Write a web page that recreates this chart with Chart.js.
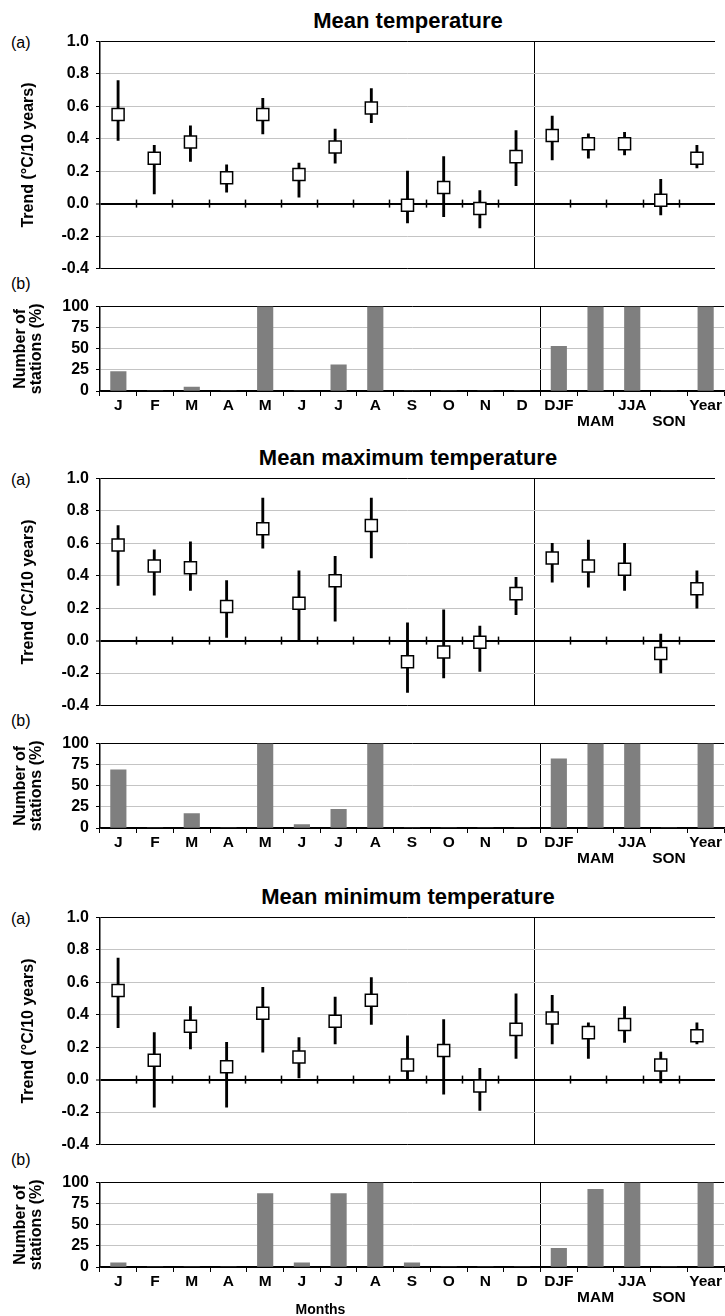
<!DOCTYPE html>
<html lang="en">
  <head>
    <meta charset="UTF-8" />
    <title>Temperature trends</title>
    <script src="https://cdn.jsdelivr.net/npm/chart.js"></script>
    <style>
      body { margin: 0; background: #fff; font-family: "Liberation Sans", Arial, sans-serif; }
      #wrap { position: relative; width: 725px; height: 1316px; overflow: hidden; }
      #wrap canvas { position: absolute; left: 0; }
      .txt { position: absolute; color: #000; white-space: nowrap; }
      .title { left: 96px; width: 624px; text-align: center; font-weight: bold; font-size: 22px; line-height: 24px; }
      .tag { left: 11px; font-size: 16px; line-height: 20px; }
      .months { left: 100px; width: 441px; text-align: center; font-weight: bold; font-size: 14px; line-height: 16px; }
    </style>
  </head>
  <body>
    <div id="wrap"></div>

    <script>
      // categories: 12 months + seasons + year
      const categories = ["J", "F", "M", "A", "M", "J", "J", "A", "S", "O", "N", "D", "DJF", "MAM", "JJA", "SON", "Year"];
      // staggered labels like the original (MAM / SON on second row)
      const xTickLabels = ["J", "F", "M", "A", "M", "J", "J", "A", "S", "O", "N", "D", "DJF", ["", "MAM"], "JJA", ["", "SON"], "Year"];

      // Mean temperature (trend, lower / upper bound, % stations significant)
      const meanT = [0.55, 0.28, 0.38, 0.16, 0.55, 0.18, 0.35, 0.59, -0.01, 0.10, -0.03, 0.29, 0.42, 0.37, 0.37, 0.02, 0.28];
      const meanTLow = [0.39, 0.06, 0.26, 0.07, 0.43, 0.04, 0.25, 0.50, -0.12, -0.08, -0.15, 0.11, 0.27, 0.28, 0.30, -0.07, 0.22];
      const meanTHigh = [0.76, 0.36, 0.48, 0.24, 0.65, 0.25, 0.46, 0.71, 0.20, 0.29, 0.08, 0.45, 0.54, 0.43, 0.44, 0.15, 0.36];
      const meanTStations = [23, 0, 4.5, 0, 100, 0, 31, 100, 0, 0, 0, 0, 53, 100, 100, 0, 100];

      // Mean maximum temperature
      const maxT = [0.59, 0.46, 0.45, 0.21, 0.69, 0.23, 0.37, 0.71, -0.13, -0.07, -0.01, 0.29, 0.51, 0.46, 0.44, -0.08, 0.32];
      const maxTLow = [0.34, 0.28, 0.31, 0.02, 0.57, 0.0, 0.12, 0.51, -0.32, -0.23, -0.19, 0.16, 0.36, 0.33, 0.31, -0.20, 0.20];
      const maxTHigh = [0.71, 0.56, 0.61, 0.37, 0.88, 0.43, 0.52, 0.88, 0.11, 0.19, 0.09, 0.39, 0.60, 0.62, 0.60, 0.04, 0.43];
      const maxTStations = [69, 0, 17, 0, 100, 4, 22, 100, 0, 0, 0, 0, 82, 100, 100, 0, 100];

      // Mean minimum temperature
      const minT = [0.55, 0.12, 0.33, 0.08, 0.41, 0.14, 0.36, 0.49, 0.09, 0.18, -0.04, 0.31, 0.38, 0.29, 0.34, 0.09, 0.27];
      const minTLow = [0.32, -0.17, 0.19, -0.17, 0.17, 0.01, 0.22, 0.34, 0.0, -0.09, -0.19, 0.13, 0.22, 0.13, 0.23, -0.02, 0.22];
      const minTHigh = [0.75, 0.29, 0.45, 0.23, 0.57, 0.26, 0.51, 0.63, 0.27, 0.37, 0.07, 0.53, 0.52, 0.35, 0.45, 0.17, 0.35];
      const minTStations = [5, 0, 0, 0, 87, 5, 87, 100, 5, 0, 0, 0, 22, 92, 100, 0, 100];

      const panels = [
        { title: "Mean temperature", top: 39, trend: meanT, low: meanTLow, high: meanTHigh, stations: meanTStations },
        { title: "Mean maximum temperature", top: 476, trend: maxT, low: maxTLow, high: maxTHigh, stations: maxTStations },
        { title: "Mean minimum temperature", top: 915, trend: minT, low: minTLow, high: minTHigh, stations: minTStations },
      ];

      Chart.defaults.font.family = "'Liberation Sans', Arial, sans-serif";
      Chart.defaults.color = "#000";

      const wrap = document.getElementById("wrap");
      const PLOT_A = 232; // height of trend plot
      const PLOT_B = 87; // height of station plot
      const PAD = 14;
      const GRID = "#c4c4c4";
      const yTickFont = { size: 16, weight: "bold" };

      function addCanvas(top, height) {
        const c = document.createElement("canvas");
        c.width = 725;
        c.height = height;
        c.style.top = top + "px";
        wrap.appendChild(c);
        return c;
      }

      function addText(text, cls, top) {
        const d = document.createElement("div");
        d.className = "txt " + cls;
        d.style.top = top + "px";
        d.textContent = text;
        wrap.appendChild(d);
      }

      // small ticks crossing the zero line, at category boundaries
      const zeroTicks = {
        id: "zeroTicks",
        afterDatasetsDraw(chart) {
          const { ctx, scales: { x, y } } = chart;
          const y0 = y.getPixelForValue(0);
          ctx.save();
          ctx.strokeStyle = "#000";
          ctx.lineWidth = 1.5;
          for (let i = 1; i < categories.length; i++) {
            if (i === 12) continue;
            const px = Math.round(x.getPixelForValue(i - 0.5)) + 0.5;
            ctx.beginPath();
            ctx.moveTo(px, y0 - 4);
            ctx.lineTo(px, y0 + 4);
            ctx.stroke();
          }
          ctx.restore();
        },
      };

      const divider = (c) => (c.index === 12 ? "#000" : "rgba(0,0,0,0)");
      const isZero = (v) => Math.abs(v) < 1e-9;

      panels.forEach((p) => {
        const T = p.top;
        addText(p.title, "title", T - 18 - 12);
        addText("(a)", "tag", T + 4 - 10);
        addText("(b)", "tag", T + 245 - 10);

        // (a) trend with confidence interval
        new Chart(addCanvas(T - PAD, PLOT_A + 2 * PAD), {
          type: "bar",
          data: {
            labels: categories,
            datasets: [
              {
                type: "bar",
                data: p.low.map((l, i) => [l, p.high[i]]),
                backgroundColor: "#000",
                barThickness: 2.2,
                order: 1,
              },
              {
                type: "line",
                data: p.trend,
                showLine: false,
                pointStyle: "rect",
                pointRadius: 8.5,
                pointBackgroundColor: "#fff",
                pointBorderColor: "#000",
                pointBorderWidth: 1.5,
                order: 0,
              },
            ],
          },
          options: {
            responsive: false,
            animation: false,
            layout: { padding: { top: PAD, bottom: PAD, right: 1, left: 0 } },
            plugins: { legend: { display: false }, tooltip: { enabled: false } },
            scales: {
              x: {
                offset: true,
                grid: { offset: true, color: divider, drawTicks: false },
                border: { display: false },
                ticks: { display: false },
                afterFit: (s) => { s.height = 0; },
              },
              y: {
                min: -0.4,
                max: 1.0,
                ticks: { stepSize: 0.2, autoSkip: false, font: yTickFont, padding: 7, callback: (v) => (isZero(v) ? "0.0" : v.toFixed(1)) },
                grid: {
                  color: (c) => {
                    const v = c.tick.value;
                    return isZero(v) || v <= -0.399 || v >= 0.999 ? "#000" : GRID;
                  },
                  lineWidth: (c) => (isZero(c.tick.value) ? 2 : 1),
                  tickColor: "#000",
                  tickWidth: 1,
                  tickLength: 4,
                },
                border: { color: "#000", width: 1.5 },
                title: { display: true, text: "Trend (°C/10 years)", font: { size: 16, weight: "bold" }, padding: { top: 19, bottom: 0 } },
                afterFit: (s) => { s.width = 100; },
              },
            },
          },
          plugins: [zeroTicks],
        });

        // (b) share of stations with significant trend
        new Chart(addCanvas(T + 265 - PAD, PLOT_B + PAD + 45), {
          type: "bar",
          data: {
            labels: xTickLabels,
            datasets: [{ data: p.stations, backgroundColor: "#7f7f7f", barThickness: 15.5 }],
          },
          options: {
            responsive: false,
            animation: false,
            layout: { padding: { top: PAD, bottom: 0, right: 1, left: 0 } },
            plugins: { legend: { display: false }, tooltip: { enabled: false } },
            scales: {
              x: {
                offset: true,
                grid: { offset: true, color: divider, tickColor: "#000", tickLength: 5, tickWidth: 1 },
                border: { color: "#000", width: 1.5 },
                ticks: { autoSkip: false, maxRotation: 0, font: { size: 15.5, weight: "bold", lineHeight: 1.0 }, padding: 2 },
                afterFit: (s) => { s.height = 45; },
              },
              y: {
                min: 0,
                max: 100,
                ticks: { stepSize: 25, autoSkip: false, font: yTickFont, padding: 7 },
                grid: {
                  color: (c) => (c.tick.value === 0 || c.tick.value === 100 ? "#000" : GRID),
                  tickColor: "#000",
                  tickWidth: 1,
                  tickLength: 4,
                },
                border: { color: "#000", width: 1.5 },
                title: { display: true, text: ["Number of", "stations (%)"], font: { size: 16, weight: "bold", lineHeight: 1.0 }, padding: { top: 13, bottom: 0 } },
                afterFit: (s) => { s.width = 100; },
              },
            },
          },
        });
      });

      addText("Months", "months", 1309 - 8);
    </script>
  </body>
</html>
